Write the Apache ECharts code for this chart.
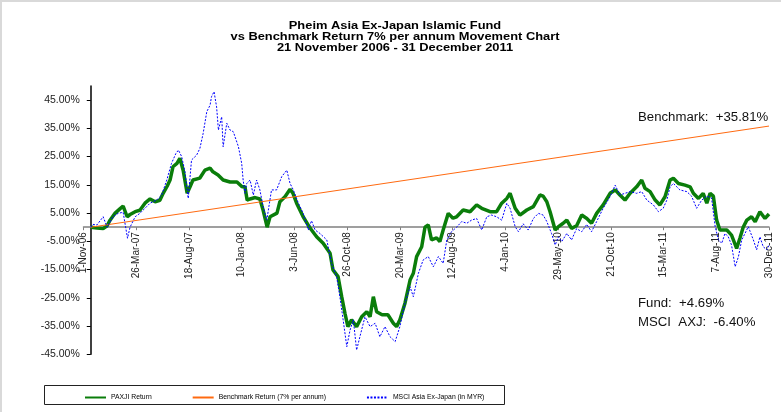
<!DOCTYPE html>
<html><head><meta charset="utf-8">
<script src="https://cdn.jsdelivr.net/npm/echarts@6/dist/echarts.min.js"></script>
<style>html,body{margin:0;padding:0;background:#fff}#c{width:781px;height:412px}</style>
</head><body><div id="c"></div>
<script>
// Title lines
const titleLines = [
  'Pheim Asia Ex-Japan Islamic Fund',
  'vs Benchmark Return 7% per annum Movement Chart',
  '21 November 2006 - 31 December 2011'
];
// x values are days counted from 21-Nov-2006
const baseDateUTC = Date.UTC(2006, 10, 21);
const monthNames = ['Jan','Feb','Mar','Apr','May','Jun','Jul','Aug','Sep','Oct','Nov','Dec'];
const xTickDays = [-20,125,270,415,560,705,850,995,1140,1285,1430,1575,1720,1865];
const yTickValues = [-45,-35,-25,-15,-5,5,15,25,35,45];
const seriesNames = ['PAXJI Return','Benchmark Return (7% per annum)','MSCI Asia Ex-Japan (in MYR)'];

const paxjiDays = [0,17,34,45,53,67,80,89,100,108,122,135,149,163,177,190,199,210,218,226,237,245,254,265,273,281,300,314,328,336,350,364,383,402,416,424,430,438,452,465,474,485,493,512,520,534,548,556,566,584,603,621,639,658,666,680,690,699,707,717,731,745,759,768,777,786,801,817,832,841,850,864,878,887,896,910,919,928,937,951,960,969,983,996,1006,1024,1043,1061,1075,1098,1116,1130,1144,1153,1167,1180,1199,1217,1235,1244,1254,1263,1277,1286,1299,1309,1322,1336,1350,1364,1377,1391,1409,1428,1442,1455,1469,1483,1501,1515,1524,1538,1552,1565,1579,1593,1602,1616,1634,1648,1657,1671,1684,1694,1703,1712,1721,1730,1749,1762,1776,1785,1794,1804,1817,1827,1840,1854,1865];
const paxjiValues = [0,-0.3,-0.5,0.5,2.5,5,6.5,7.5,3.7,4.5,5.5,6,8.5,10,9,9.5,12,14.5,16.7,21.4,22.6,24.4,20.2,12,14.3,16.7,17.4,20.2,20.9,19.6,18.5,16.7,16,16,14.3,14.3,9.6,10,10.5,10,6,0,3.7,5,9,10.8,13.4,12,8.5,3.7,-0.3,-3.4,-5.7,-9.2,-15.1,-17.5,-24.6,-30.5,-35.2,-32.8,-35.2,-31.7,-29.9,-31.7,-24.6,-29.9,-31,-31,-34,-35.2,-32.8,-26.9,-18.7,-16.3,-10.4,-6.9,0,0.8,-4.5,-3.8,-5.1,-1,4.9,3.2,3.7,6.1,5.5,7.9,6.7,5.5,5.5,8.5,10.2,12,6.7,4.3,6.1,7.3,11.4,11,9,5.5,-1,0.2,1.4,2.5,-0.4,0.5,4.3,3.1,1.4,4.9,7.9,12,13.2,11.4,9.6,12,14.3,16.7,13.8,12.6,9.6,7.9,10.8,16.7,17.3,15.5,14.9,14.3,12,10.2,12,8.5,12,11,2.5,-1,-1,-2.8,-7.5,-3.9,0,2.5,3.7,1.9,5.5,3.1,4.69];

const benchDays = [0,1865];
const benchValues = [0,35.81];

const msciDays = [0,6,17,34,45,61,75,89,101,108,122,135,149,163,181,195,209,222,234,241,250,259,268,277,291,300,309,319,328,332,339,346,351,360,364,374,383,392,406,415,419,424,429,438,447,456,465,474,484,497,511,525,539,548,557,571,584,598,607,617,630,649,662,676,685,694,704,713,722,731,740,754,768,782,795,809,823,837,850,864,878,887,901,914,928,942,956,969,979,992,1006,1020,1034,1047,1061,1075,1089,1102,1116,1130,1144,1153,1167,1176,1189,1203,1217,1231,1244,1254,1267,1277,1286,1295,1309,1322,1336,1350,1364,1377,1391,1409,1428,1442,1455,1469,1483,1501,1515,1529,1547,1561,1574,1584,1593,1602,1620,1639,1652,1666,1680,1694,1707,1717,1726,1735,1744,1753,1762,1772,1781,1790,1799,1808,1822,1831,1840,1849,1859,1865];
const msciValues = [0,1,0.8,3.7,0,3.7,4.9,5.3,-3.9,0,3.7,4.9,6.7,8.5,9.6,11.4,16.7,22.6,26.1,27.3,25,19.6,10.2,23.8,25.5,27.9,33.2,40.9,43.2,46.2,48,42.6,34.4,39.1,28.5,36.8,34.4,33.8,28.5,22.6,16.7,12,15.5,16.7,11.4,16.7,13.2,7.3,2.5,13.2,13.2,17.9,20.2,15.5,13.2,8.5,4.9,-1,2.3,-1,-2.2,-4.5,-12.8,-17.5,-24.6,-32.8,-42.3,-36.4,-32.8,-43.5,-38.8,-31.7,-35.2,-34,-38.8,-35.2,-38.8,-40.5,-35.2,-26.9,-21.1,-24.6,-16.3,-11.6,-10.4,-14,-10.4,-12.8,-4.5,-1.6,0,2,1.4,2.5,3.1,-1,3.7,4.3,3.7,2.5,8.5,6.7,0.2,-1.6,1.2,-1,3.1,4.9,4.3,2,-2.2,-6.3,-3.4,-5.1,-2.2,-4.5,-0.5,-1.6,1,-1.6,2,6.7,10.8,14.9,11.4,12,12.6,12,12.6,9.6,7.9,5.5,6.7,9.6,14.3,15.5,13.2,12.6,11,6.7,9.6,11,10.4,0.2,-4.5,-5.7,-2.2,-3.4,-6.3,-14,-10.4,-4.5,-2.2,0.2,-4.5,-8,-3.4,-6.9,-8,-6.4];

const annotations = [
  {text: 'Benchmark:  +35.81%', x: 638, y: 118},
  {text: 'Fund:  +4.69%', x: 638, y: 304},
  {text: 'MSCI  AXJ:  -6.40%', x: 638, y: 323}
];

function fmtDay(d) {
  const dt = new Date(baseDateUTC + d * 86400000);
  return dt.getUTCDate() + '-' + monthNames[dt.getUTCMonth()] + '-' + String(dt.getUTCFullYear()).slice(2);
}
const pairs = (xs, ys) => xs.map((x, i) => [x, ys[i]]);
const FONT = 'Liberation Sans, Arial, sans-serif';

// layout
const W = 781, H = 412;
const G = {left: 83.5, right: 12, top: 86, bottom: 57.7};
const xMin = -20, xMax = 1865, yMin = -45, yMax = 50;
const plotW = W - G.left - G.right, plotH = H - G.top - G.bottom;
// shift axes so they cross at day 0 / value 0
const xAxisOffset = -plotH * (0 - yMin) / (yMax - yMin);
const yAxisOffset = -plotW * (0 - xMin) / (xMax - xMin);

const chart = echarts.init(document.getElementById('c'), null, {renderer: 'canvas'});
chart.setOption({
  animation: false,
  backgroundColor: '#fff',
  grid: Object.assign({containLabel: false, outerBoundsMode: 'none'}, G),
  legend: {
    data: seriesNames, left: 84, top: 394, itemWidth: 21, itemHeight: 1, itemGap: 40, padding: 0,
    itemStyle: {opacity: 0},
    textStyle: {fontSize: 6.8, color: '#000', fontFamily: FONT}
  },
  xAxis: {
    type: 'value', min: xMin, max: xMax, position: 'bottom', offset: xAxisOffset,
    axisLine: {show: true, onZero: false, lineStyle: {color: '#808080', width: 1.5}},
    axisTick: {show: true, customValues: xTickDays, length: 3, lineStyle: {color: '#808080'}},
    axisLabel: {customValues: xTickDays, rotate: 90, margin: 5, fontSize: 10, color: '#222', fontFamily: FONT,
      formatter: v => fmtDay(v), showMinLabel: true, showMaxLabel: true},
    splitLine: {show: false}
  },
  yAxis: {
    type: 'value', min: yMin, max: yMax, position: 'left', offset: yAxisOffset,
    axisLine: {show: true, onZero: false, lineStyle: {color: '#000', width: 1.5}},
    axisTick: {show: true, customValues: yTickValues, length: 4, lineStyle: {color: '#000'}},
    axisLabel: {customValues: yTickValues, margin: 11, fontSize: 10.5, color: '#222', fontFamily: FONT,
      formatter: v => v.toFixed(2) + '%'},
    splitLine: {show: false}
  },
  series: [
    {name: seriesNames[0], type: 'line', symbol: 'none', data: pairs(paxjiDays, paxjiValues),
      lineStyle: {color: '#0a7d0a', width: 3.5}, itemStyle: {color: '#0a7d0a'}, z: 2},
    {name: seriesNames[1], type: 'line', symbol: 'none', data: pairs(benchDays, benchValues),
      lineStyle: {color: '#ff6a10', width: 1}, itemStyle: {color: '#ff6a10'}, z: 3},
    {name: seriesNames[2], type: 'line', symbol: 'none', data: pairs(msciDays, msciValues),
      lineStyle: {color: '#0000ff', width: 1, type: [2, 1.5]}, itemStyle: {color: '#0000ff'}, z: 4}
  ],
  graphic: [
    {type: 'rect', shape: {x: 0, y: 0, width: W, height: 2}, style: {fill: '#d9d9d9'}, silent: true},
    {type: 'rect', shape: {x: 0, y: 0, width: 2, height: H}, style: {fill: '#d9d9d9'}, silent: true},
    {type: 'text', x: 395, y: 20, scaleX: 1.17, style: {text: titleLines.join('\n'), textAlign: 'center', textVerticalAlign: 'top',
      font: 'bold 11px ' + FONT, lineHeight: 11.3, fill: '#000'}},
    {type: 'rect', shape: {x: 44.5, y: 385.5, width: 460, height: 19}, style: {fill: 'none', stroke: '#222', lineWidth: 1}, silent: true}
  ].concat(annotations.map(a => ({type: 'text', x: a.x, y: a.y, scaleX: 1.1,
    style: {text: a.text, textVerticalAlign: 'middle', font: '12px ' + FONT, fill: '#111'}})))
});
</script></body></html>
